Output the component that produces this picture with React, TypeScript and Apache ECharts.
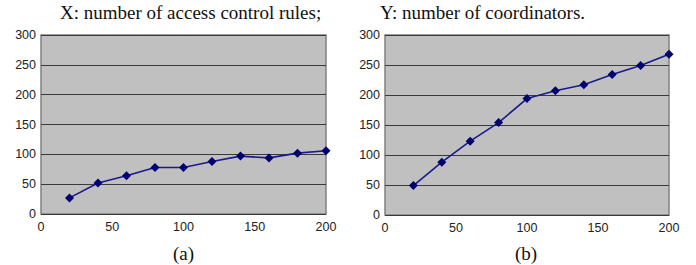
import React, { useEffect, useRef } from "react";
import * as echarts from "echarts";

const xValues = [20, 40, 60, 80, 100, 120, 140, 160, 180, 200];
const seriesA = [27, 52, 64, 78, 78, 88, 97, 94, 102, 106];
const seriesB = [49, 88, 123, 154, 194, 207, 217, 234, 249, 268];
const titleLeft = "X: number of access control rules;";
const titleRight = "Y: number of coordinators.";
const captionLeft = "(a)";
const captionRight = "(b)";

export default function App() {
  const ref = useRef<HTMLDivElement>(null);
  useEffect(() => {
    if (!ref.current) return;
    const chart = echarts.init(ref.current, null, { renderer: "svg" });
    const axisLabel = { color: "#222", fontFamily: "Liberation Sans", fontSize: 12.5 };
    const mkX = (gridIndex: number) => ({
      type: "value",
      gridIndex,
      min: 0,
      max: 200,
      interval: 50,
      axisLine: { show: false },
      axisTick: { show: false },
      splitLine: { show: false },
      axisLabel: { ...axisLabel, margin: 6 },
    });
    const mkY = (gridIndex: number) => ({
      type: "value",
      gridIndex,
      min: 0,
      max: 300,
      interval: 50,
      axisLine: { show: false },
      axisTick: { show: false },
      splitLine: { show: true, lineStyle: { color: "#3a3a3a", width: 1 } },
      axisLabel: { ...axisLabel, margin: 5 },
    });
    const mkSeries = (idx: number, vals: number[]) => ({
      type: "line",
      xAxisIndex: idx,
      yAxisIndex: idx,
      data: xValues.map((x, i) => [x, vals[i]]),
      symbol: "diamond",
      symbolSize: 9,
      lineStyle: { color: "#1a1a8c", width: 1.6 },
      itemStyle: { color: "#000070" },
    });
    const tStyle = { fontFamily: "Liberation Serif", fontSize: 19, fontWeight: "normal", color: "#111", lineHeight: 21 };
    chart.setOption({
      animation: false,
      backgroundColor: "#ffffff",
      title: [
        { text: titleLeft, left: 60, top: 2, padding: 0, textStyle: tStyle },
        { text: titleRight, left: 380, top: 2, padding: 0, textStyle: tStyle },
        { text: captionLeft, left: 173, top: 243, padding: 0, textStyle: tStyle },
        { text: captionRight, left: 515, top: 243, padding: 0, textStyle: tStyle },
      ],
      grid: [
        { left: 41, top: 35, width: 285, height: 179, show: true, backgroundColor: "#c0c0c0", borderColor: "#808080", borderWidth: 1.5 },
        { left: 385, top: 35, width: 284, height: 180, show: true, backgroundColor: "#c0c0c0", borderColor: "#808080", borderWidth: 1.5 },
      ],
      xAxis: [mkX(0), mkX(1)],
      yAxis: [mkY(0), mkY(1)],
      series: [mkSeries(0, seriesA), mkSeries(1, seriesB)],
    });
    return () => chart.dispose();
  }, []);
  return (
    <div
      ref={ref}
      style={{ position: "fixed", left: 0, top: 0, width: 696, height: 265 }}
    />
  );
}
